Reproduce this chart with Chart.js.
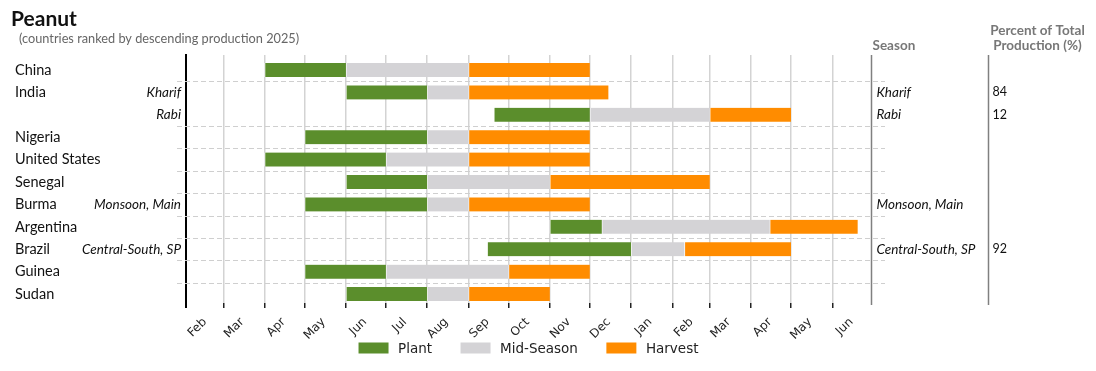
<!DOCTYPE html>
<html>
<head>
<meta charset="utf-8">
<script src="https://cdn.jsdelivr.net/npm/chart.js@4"></script>
<style>
  html, body { margin: 0; padding: 0; background: #fff; }
  #wrap { width: 1096px; height: 371px; }
</style>
</head>
<body>
<div id="wrap"><canvas id="myChart" width="1096" height="371"></canvas></div>
<script>
// rows (top to bottom)
var countries = ['China', 'India', '', 'Nigeria', 'United States', 'Senegal', 'Burma', 'Argentina', 'Brazil', 'Guinea', 'Sudan'];
var seasons = ['', 'Kharif', 'Rabi', '', '', '', 'Monsoon, Main', '', 'Central-South, SP', '', ''];
var shares = ['', '84', '12', '', '', '', '', '', '92', '', ''];

// crop calendar dates
var plantStart = ['2025-04-01', '2025-06-01', '2025-09-20', '2025-05-01', '2025-04-01', '2025-06-01', '2025-05-01', '2025-11-01', '2025-09-15', '2025-05-01', '2025-06-01'];
var plantEnd   = ['2025-06-01', '2025-08-01', '2025-12-01', '2025-08-01', '2025-07-01', '2025-08-01', '2025-08-01', '2025-12-10', '2026-01-01', '2025-07-01', '2025-08-01'];
var midEnd     = ['2025-09-01', '2025-09-01', '2026-03-01', '2025-09-01', '2025-09-01', '2025-11-01', '2025-09-01', '2026-04-15', '2026-02-10', '2025-10-01', '2025-09-01'];
var harvestEnd = ['2025-12-01', '2025-12-15', '2026-05-01', '2025-12-01', '2025-12-01', '2026-03-01', '2025-12-01', '2026-06-20', '2026-05-01', '2025-12-01', '2025-11-01'];

// axis: months from Feb to Jun of next year
var monthLabels = ['Feb', 'Mar', 'Apr', 'May', 'Jun', 'Jul', 'Aug', 'Sep', 'Oct', 'Nov', 'Dec', 'Jan', 'Feb', 'Mar', 'Apr', 'May', 'Jun'];
var axisStart = '2025-02-01';
var axisEnd = '2026-06-30';

var GREEN = '#5b8e2c', GREY = '#d4d3d6', ORANGE = '#ff8c00';

function dayOf(s) {
    return (Date.parse(s) - Date.parse(axisStart)) / 86400000;
}
var monthTicks = monthLabels.map(function (m, i) {
    return (Date.UTC(2025, 1 + i, 1) - Date.parse(axisStart)) / 86400000;
});

function segs(starts, ends) {
    return starts.map(function (s, i) {
        return { x: [dayOf(s), dayOf(ends[i])], y: i };
    });
}

var barStyle = {
    barThickness: 14,
    grouped: false,
    borderColor: '#ffffff',
    borderWidth: { left: 1, right: 0, top: 0, bottom: 0 },
    borderSkipped: false
};

var chartData = {
    datasets: [
        Object.assign({ label: 'Plant', data: segs(plantStart, plantEnd), backgroundColor: GREEN }, barStyle),
        Object.assign({ label: 'Mid-Season', data: segs(plantEnd, midEnd), backgroundColor: GREY }, barStyle),
        Object.assign({ label: 'Harvest', data: segs(midEnd, harvestEnd), backgroundColor: ORANGE }, barStyle)
    ]
};

var SANS = 'Lato, "Noto Sans", sans-serif';

// texts, table columns, legend and dashed row separators
var decorations = {
    id: 'decorations',
    beforeDatasetsDraw: function (chart) {
        var ctx = chart.ctx, area = chart.chartArea, y = chart.scales.y;
        ctx.save();
        ctx.strokeStyle = '#cfcfcf';
        ctx.lineWidth = 1;
        ctx.setLineDash([5, 3]);
        for (var i = 1; i < countries.length; i++) {
            if (!countries[i]) continue;
            var py = Math.round((y.getPixelForValue(i - 1) + y.getPixelForValue(i)) / 2) + 0.5;
            ctx.beginPath();
            ctx.moveTo(area.left - 9, py);
            ctx.lineTo(area.right + 14, py);
            ctx.stroke();
        }
        ctx.restore();
    },
    afterDraw: function (chart) {
        var ctx = chart.ctx, area = chart.chartArea, y = chart.scales.y;
        var seasonX = area.right + 0.5, shareX = area.right + 117.5;
        ctx.save();

        // title
        ctx.fillStyle = '#111';
        ctx.textBaseline = 'alphabetic';
        ctx.textAlign = 'left';
        ctx.font = 'bold 21px ' + SANS;
        ctx.fillText('Peanut', 11, 26);
        ctx.fillStyle = '#666';
        ctx.font = '12.75px ' + SANS;
        ctx.fillText('(countries ranked by descending production 2025)', 19, 43);

        // column headers
        ctx.fillStyle = '#777';
        ctx.font = 'bold 13.5px ' + SANS;
        ctx.fillText('Season', seasonX + 1, 50);
        ctx.textAlign = 'center';
        ctx.fillText('Percent of Total', shareX + 49, 35);
        ctx.fillText('Production (%)', shareX + 49, 50);

        // column lines
        ctx.strokeStyle = '#808080';
        ctx.lineWidth = 1.5;
        ctx.beginPath();
        ctx.moveTo(seasonX, area.top);
        ctx.lineTo(seasonX, area.bottom + 2);
        ctx.moveTo(shareX, area.top);
        ctx.lineTo(shareX, area.bottom + 2);
        ctx.stroke();

        // left axis line reaches down to the tick marks
        ctx.strokeStyle = '#000';
        ctx.lineWidth = 2;
        ctx.beginPath();
        ctx.moveTo(area.left, area.bottom);
        ctx.lineTo(area.left, area.bottom + 5);
        ctx.stroke();

        // row labels
        ctx.textBaseline = 'middle';
        for (var i = 0; i < countries.length; i++) {
            var py = y.getPixelForValue(i);
            ctx.fillStyle = '#111';
            ctx.textAlign = 'left';
            ctx.font = '14.5px ' + SANS;
            if (countries[i]) ctx.fillText(countries[i], 15, py);
            if (seasons[i]) {
                ctx.font = 'italic 13.5px ' + SANS;
                ctx.textAlign = 'right';
                ctx.fillText(seasons[i], area.left - 5, py);
                ctx.textAlign = 'left';
                ctx.fillText(seasons[i], seasonX + 5, py);
            }
            if (shares[i]) {
                ctx.font = '12.5px ' + SANS;
                ctx.textAlign = 'left';
                ctx.fillText(shares[i], shareX + 4, py);
            }
        }

        // legend, centred under the plot
        ctx.font = '13.5px "DejaVu Sans"';
        var items = chart.data.datasets.map(function (d) {
            return { text: d.label, color: d.backgroundColor, w: ctx.measureText(d.label).width };
        });
        var boxW = 30, boxH = 11, textGap = 9.5, itemGap = 28.5;
        var total = 0;
        items.forEach(function (it, k) { total += boxW + textGap + it.w + (k ? itemGap : 0); });
        var lx = (area.left + area.right) / 2 - total / 2, ly = 348;
        ctx.textAlign = 'left';
        ctx.textBaseline = 'middle';
        items.forEach(function (it) {
            ctx.fillStyle = it.color;
            ctx.fillRect(lx, ly - boxH / 2, boxW, boxH);
            ctx.fillStyle = '#222';
            ctx.fillText(it.text, lx + boxW + textGap, ly + 1);
            lx += boxW + textGap + it.w + itemGap;
        });
        ctx.restore();
    }
};

var ctx = document.getElementById('myChart').getContext('2d');

var myChart = new Chart(ctx, {
    type: 'bar',
    data: chartData,
    plugins: [decorations],
    options: {
        indexAxis: 'y',
        responsive: false,
        animation: false,
        layout: {
            padding: { left: 186, right: 225, top: 55, bottom: 13 }
        },
        scales: {
            x: {
                type: 'linear',
                min: 0,
                max: dayOf(axisEnd),
                z: 1,
                border: { display: false },
                afterBuildTicks: function (scale) {
                    scale.ticks = monthTicks.map(function (v) { return { value: v }; });
                },
                afterFit: function (scale) {
                    scale.height = 55;
                },
                grid: {
                    color: function (c) { return c.index === 0 ? 'rgba(0,0,0,0)' : '#d3d3d3'; },
                    lineWidth: 1.5,
                    tickColor: '#222',
                    tickWidth: 1.5,
                    tickLength: 5
                },
                ticks: {
                    minRotation: 45,
                    maxRotation: 45,
                    autoSkip: false,
                    padding: 7,
                    labelOffset: 19,
                    color: '#222',
                    font: { family: '"DejaVu Sans"', size: 12 },
                    callback: function (value, index) { return monthLabels[index]; }
                }
            },
            y: {
                type: 'linear',
                reverse: true,
                offset: false,
                min: -0.67,
                max: 10.4,
                z: 2,
                grid: { display: false, drawTicks: false },
                ticks: { display: false },
                border: { display: true, color: '#000', width: 2 }
            }
        },
        plugins: {
            legend: { display: false },
            tooltip: { enabled: false }
        }
    }
});
</script>
</body>
</html>
